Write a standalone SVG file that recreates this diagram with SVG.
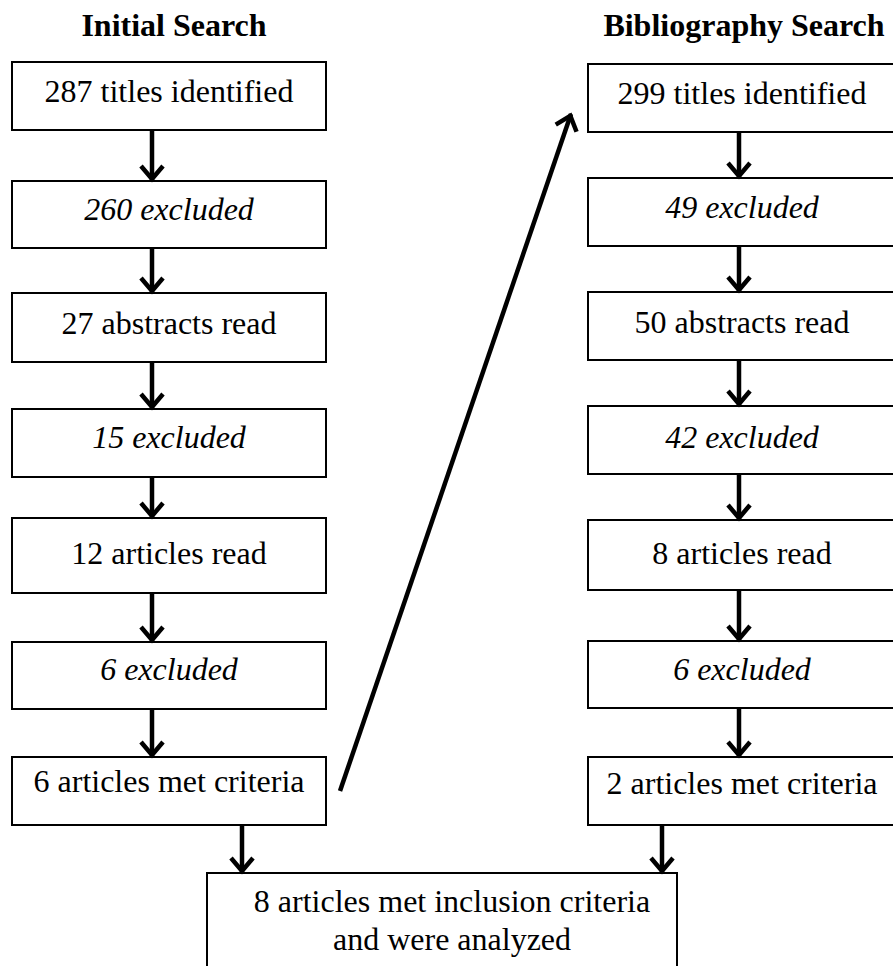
<svg xmlns="http://www.w3.org/2000/svg" width="893" height="966" viewBox="0 0 893 966">
<style>
  .box { fill: #fff; stroke: #000; stroke-width: 2; }
  text { font-family: "Times New Roman", Times, "Liberation Serif", Tinos, "Nimbus Roman", FreeSerif, "Noto Serif", "DejaVu Serif", serif; font-size: 32px; fill: #000; text-anchor: middle; }
  .it { font-style: italic; }
  .h { font-weight: bold; }
  .c { stroke: #000; stroke-width: 4.5; fill: none; marker-end: url(#ah); }
</style>
<defs>
  <marker id="ah" markerUnits="userSpaceOnUse" markerWidth="40" markerHeight="40" refX="0" refY="0" orient="auto" overflow="visible">
    <path d="M -15,-11 L -2,0 L -15,11" fill="none" stroke="#000" stroke-width="4.5" stroke-linejoin="miter"/>
  </marker>
</defs>
<rect width="893" height="966" fill="#fff"/>
<text class="h" x="174" y="36">Initial Search</text>
<text class="h" x="744" y="36">Bibliography Search</text>

<g id="L1"><rect class="box" x="12" y="62" width="314" height="68"/><text x="169" y="102">287 titles identified</text></g>
<g id="L2"><rect class="box" x="12" y="181" width="314" height="67"/><text class="it" x="169" y="220">260 excluded</text></g>
<g id="L3"><rect class="box" x="12" y="293" width="314" height="69"/><text x="169" y="334">27 abstracts read</text></g>
<g id="L4"><rect class="box" x="12" y="409" width="314" height="68"/><text class="it" x="169" y="448">15 excluded</text></g>
<g id="L5"><rect class="box" x="12" y="518" width="314" height="75"/><text x="169" y="564">12 articles read</text></g>
<g id="L6"><rect class="box" x="12" y="642" width="314" height="67"/><text class="it" x="169" y="680">6 excluded</text></g>
<g id="L7"><rect class="box" x="12" y="757" width="314" height="68"/><text x="169" y="792">6 articles met criteria</text></g>

<g id="R1"><rect class="box" x="588" y="64" width="310" height="68"/><text x="742" y="104">299 titles identified</text></g>
<g id="R2"><rect class="box" x="588" y="178" width="310" height="68"/><text class="it" x="742" y="218">49 excluded</text></g>
<g id="R3"><rect class="box" x="588" y="292" width="310" height="68"/><text x="742" y="333">50 abstracts read</text></g>
<g id="R4"><rect class="box" x="588" y="406" width="310" height="68"/><text class="it" x="742" y="448">42 excluded</text></g>
<g id="R5"><rect class="box" x="588" y="520" width="310" height="70"/><text x="742" y="564">8 articles read</text></g>
<g id="R6"><rect class="box" x="588" y="641" width="310" height="67"/><text class="it" x="742" y="680">6 excluded</text></g>
<g id="R7"><rect class="box" x="588" y="757" width="310" height="68"/><text x="742" y="794">2 articles met criteria</text></g>

<g id="F"><rect class="box" x="207" y="873" width="470" height="100"/>
  <text x="452" y="912">8 articles met inclusion criteria</text>
  <text x="452" y="950">and were analyzed</text></g>

<g id="connectors">
  <line class="c" x1="152" y1="130" x2="152" y2="181"/>
  <line class="c" x1="152" y1="248" x2="152" y2="293"/>
  <line class="c" x1="152" y1="362" x2="152" y2="409"/>
  <line class="c" x1="152" y1="477" x2="152" y2="518"/>
  <line class="c" x1="152" y1="593" x2="152" y2="642"/>
  <line class="c" x1="152" y1="709" x2="152" y2="757"/>
  <line class="c" x1="739" y1="132" x2="739" y2="178"/>
  <line class="c" x1="739" y1="246" x2="739" y2="292"/>
  <line class="c" x1="739" y1="360" x2="739" y2="406"/>
  <line class="c" x1="739" y1="474" x2="739" y2="520"/>
  <line class="c" x1="739" y1="590" x2="739" y2="641"/>
  <line class="c" x1="739" y1="708" x2="739" y2="757"/>
  <line class="c" x1="242" y1="825" x2="242" y2="873"/>
  <line class="c" x1="662" y1="825" x2="662" y2="873"/>
  <line class="c" x1="340" y1="791" x2="571" y2="114"/>
</g>
</svg>
